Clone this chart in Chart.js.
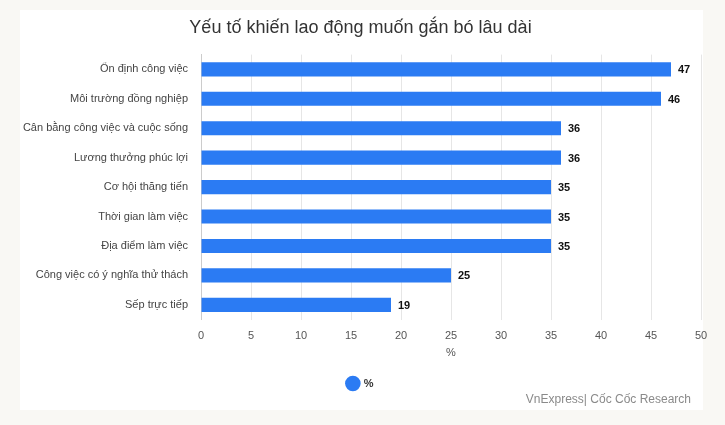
<!DOCTYPE html>
<html>
<head>
<meta charset="utf-8">
<script src="https://cdn.jsdelivr.net/npm/chart.js@4/dist/chart.umd.min.js"></script>
<style>
  html, body { margin: 0; padding: 0; background: #f9f8f4; }
  #wrap { position: relative; width: 725px; height: 425px; }
</style>
</head>
<body>
<div id="wrap"><canvas id="chart1" width="725" height="425"></canvas></div>
<script>
var categories = [
  "Ổn định công việc",
  "Môi trường đồng nghiệp",
  "Cân bằng công việc và cuộc sống",
  "Lương thưởng phúc lợi",
  "Cơ hội thăng tiến",
  "Thời gian làm việc",
  "Địa điểm làm việc",
  "Công việc có ý nghĩa thử thách",
  "Sếp trực tiếp"
];
var percent_values = [47, 46, 36, 36, 35, 35, 35, 25, 19];
var series_name = "%";
var x_ticks = [0, 5, 10, 15, 20, 25, 30, 35, 40, 45, 50];
var chart_title = "Yếu tố khiến lao động muốn gắn bó lâu dài";
var credit = "VnExpress| Cốc Cốc Research";

var barColor = "#2b7bf3";
var font = "'Liberation Sans', Arial, sans-serif";

// card background behind the chart, credit line in the bottom right corner
var cardPlugin = {
  id: "card",
  beforeDraw: function(chart) {
    var ctx = chart.ctx;
    ctx.save();
    ctx.fillStyle = "#f9f8f4";
    ctx.fillRect(0, 0, chart.width, chart.height);
    ctx.fillStyle = "#ffffff";
    ctx.fillRect(20, 10, 683, 400);
    ctx.restore();
  },
  afterDraw: function(chart) {
    var ctx = chart.ctx;
    ctx.save();
    ctx.font = "12px " + font;
    ctx.fillStyle = "#8a8a8a";
    ctx.textAlign = "right";
    ctx.textBaseline = "middle";
    ctx.fillText(credit, 691, 400);
    ctx.restore();
  }
};

// value labels at the end of each bar
var valueLabels = {
  id: "valueLabels",
  afterDatasetsDraw: function(chart) {
    var ctx = chart.ctx;
    var meta = chart.getDatasetMeta(0);
    ctx.save();
    ctx.font = "bold 11px " + font;
    ctx.fillStyle = "#111";
    ctx.textBaseline = "middle";
    ctx.textAlign = "left";
    meta.data.forEach(function(bar, i) {
      ctx.fillText(chart.data.datasets[0].data[i], bar.x + 7, bar.y + 1);
    });
    ctx.restore();
  }
};

new Chart(document.getElementById("chart1").getContext("2d"), {
  type: "bar",
  data: {
    labels: categories,
    datasets: [{
      label: series_name,
      data: percent_values,
      backgroundColor: barColor,
      hoverBackgroundColor: barColor,
      categoryPercentage: 1,
      barPercentage: 0.48
    }]
  },
  options: {
    indexAxis: "y",
    responsive: false,
    animation: false,
    devicePixelRatio: 1,
    layout: { padding: { left: 20, right: 24, top: 0, bottom: 26 } },
    scales: {
      x: {
        min: 0,
        max: 50,
        afterBuildTicks: function(axis) {
          axis.ticks = x_ticks.map(function(v) { return { value: v }; });
        },
        grid: { color: "#e6e6e6", drawTicks: true, tickLength: 6, tickColor: "rgba(0,0,0,0)" },
        border: { display: false },
        ticks: { color: "#555", font: { family: font, size: 11 }, padding: 4, maxRotation: 0 },
        title: { display: true, text: "%", color: "#555", font: { family: font, size: 11 }, padding: { top: 0, bottom: 7 } }
      },
      y: {
        grid: { display: false, drawTicks: false },
        border: { display: true, color: "#cccccc" },
        ticks: { color: "#444", font: { family: font, size: 11 }, padding: 13 },
        afterFit: function(axis) { axis.width = 181; }
      }
    },
    plugins: {
      title: {
        display: true,
        text: chart_title,
        color: "#333",
        font: { family: font, size: 18, weight: "normal" },
        padding: { top: 17, bottom: 16 }
      },
      legend: {
        position: "bottom",
        labels: {
          usePointStyle: true,
          pointStyle: "circle",
          boxWidth: 12,
          boxHeight: 12,
          color: "#333",
          font: { family: font, size: 11, weight: "bold" },
          padding: 11
        }
      },
      tooltip: { enabled: false }
    }
  },
  plugins: [cardPlugin, valueLabels]
});
</script>
</body>
</html>
